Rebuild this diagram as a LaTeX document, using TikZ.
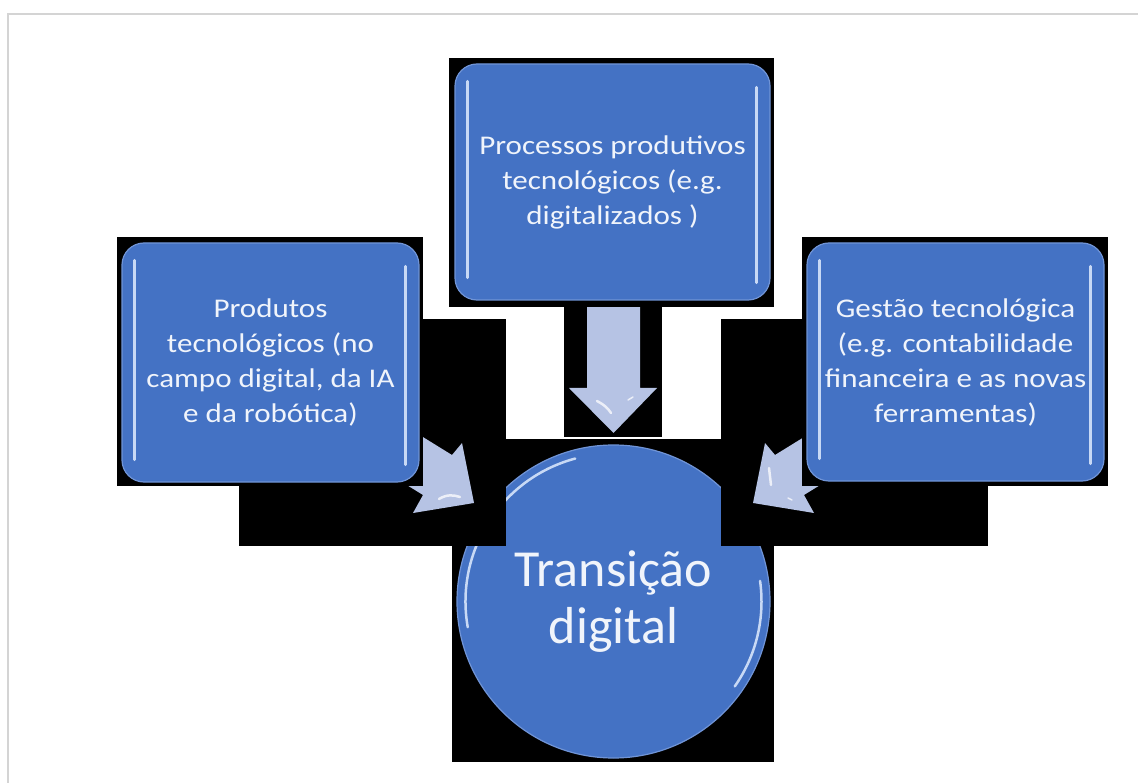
\documentclass[tikz,border=0pt]{standalone}
\usepackage{fontspec}
\setmainfont{Carlito}
\newfontfamily\boxfont[FakeStretch=1.15]{Carlito}
\usetikzlibrary{calc}
\definecolor{boxblue}{RGB}{68,114,196}
\definecolor{rimblue}{RGB}{112,148,214}
\definecolor{glossline}{RGB}{200,217,245}
\definecolor{arrowfill}{RGB}{182,195,228}
\definecolor{framegray}{RGB}{212,212,212}
\definecolor{textwhite}{RGB}{240,244,251}
\begin{document}
\begin{tikzpicture}[x=1pt,y=-1pt,
  boxnode/.style={draw=rimblue, line width=1.2pt, fill=boxblue, rounded corners=22pt,
    inner sep=0pt, text=textwhite, align=center,
    font=\boxfont\fontsize{27}{35}\selectfont},
  hubnode/.style={circle, draw=rimblue, line width=1.2pt, fill=boxblue, inner sep=0pt,
    minimum size=313pt, text=textwhite, align=center,
    font=\fontsize{52}{57}\selectfont},
  backrect/.style={fill=black},
  blockarrow/.style={fill=arrowfill, draw=none},
  shine/.style={draw=white, opacity=0.75, line width=2.5pt, line cap=round},
  gloss/.style={draw=glossline, line width=3pt, line cap=round},
  framerule/.style={draw=framegray, line width=2pt}
]
\useasboundingbox (0,0) rectangle (1138,783);
\fill[white] (0,0) rectangle (1138,783);
\draw[framerule] (8,783) -- (8,14) -- (1138,14);

% central circle layer
\fill[backrect] (452,439) rectangle (774,762);
\node[hubnode] (C) at (613.5,601.5) {Transição\\digital};
\draw[gloss, line width=2.5pt] ($(C.center)+(170:148)$) arc[start angle=170, end angle=255, radius=148];
\draw[gloss, line width=2.5pt] ($(C.center)+(-8:148)$) arc[start angle=-8, end angle=35, radius=148];

% arrow layer
\fill[backrect] (239,319) rectangle (506,546);
\fill[backrect] (721,319) rectangle (988,546);
\fill[backrect] (564,307) rectangle (662,437);
\fill[blockarrow] (384,413) -- (452,455) -- (462,443) -- (474,503) -- (413,513) -- (423,495) -- (355,453) -- cycle;
\fill[blockarrow] (843,413) -- (775,455) -- (765,443) -- (753,503) -- (814,513) -- (804,495) -- (872,453) -- cycle;
\fill[blockarrow] (587,295) -- (587,388) -- (569,388) -- (613.5,433) -- (657,388) -- (640,388) -- (640,295) -- cycle;
\draw[shine] (439,499) .. controls (447,494) and (454,495) .. (460,497);
\draw[shine] (769,468) -- (771,485);
\draw[shine, line width=1.5pt] (788,498) -- (792,500);
\draw[shine] (597,401) .. controls (603,404) and (608,408) .. (611,413);
\draw[shine, line width=1.5pt] (628,400) -- (633,397);

% box layer
\fill[backrect] (117,237) rectangle (423,486);
\fill[backrect] (802,237) rectangle (1108,486);
\fill[backrect] (449,58) rectangle (774,307);

\node[boxnode, minimum width=297pt, minimum height=239pt] (L) at (270.5,362.5)
  {Produtos\\tecnológicos (no\\campo digital, da IA\\e da robótica)};
\node[boxnode, minimum width=315pt, minimum height=236pt] (T) at (612.5,182)
  {Processos produtivos\\tecnológicos (e.g.\\digitalizados )};
\node[boxnode, minimum width=297pt, minimum height=238pt] (R) at (955.5,362)
  {Gestão tecnológica\\(e.g. contabilidade\\financeira e as novas\\ferramentas)};

\foreach \b in {L,T,R}{
  \draw[gloss] ($(\b.north west)+(13.5,18)$) -- ($(\b.south west)+(13.5,-23)$);
  \draw[gloss] ($(\b.north east)+(-14,24)$) -- ($(\b.south east)+(-14,-18)$);
}
\end{tikzpicture}
\end{document}
